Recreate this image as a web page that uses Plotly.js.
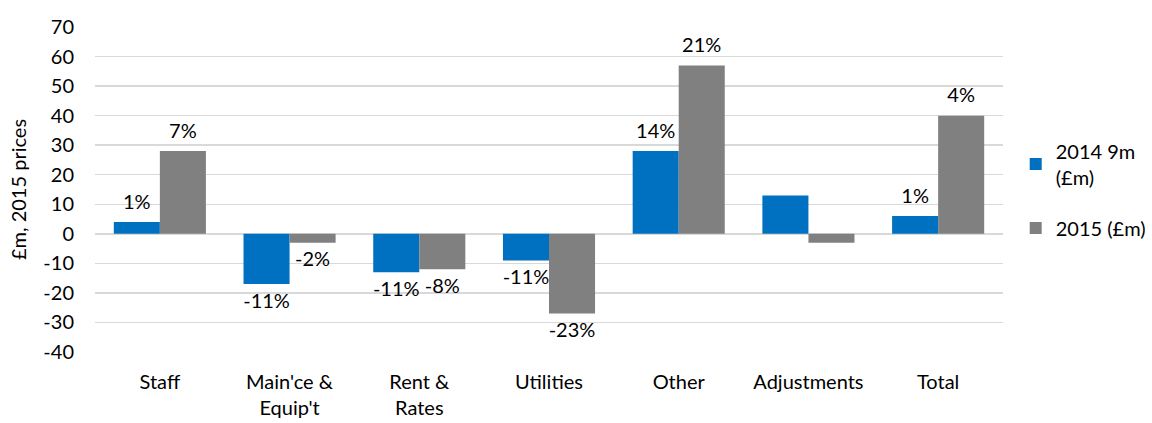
<!DOCTYPE html>
<html>
<head>
<meta charset="utf-8">
<script src="https://cdn.plot.ly/plotly-3.0.1.min.js"></script>
<style>html,body{margin:0;padding:0;background:#fff;}#chart{width:1152px;height:423px;}</style>
</head>
<body>
<div id="chart"></div>
<script>
const categories = ["Staff", "Main'ce &<br>Equip't", "Rent &<br>Rates", "Utilities", "Other", "Adjustments", "Total"];
const series2014Name = "2014 9m<br>(£m)";
const series2015Name = "2015 (£m)";
const values2014 = [4, -17, -13, -9, 28, 13, 6];
const values2015 = [28, -3, -12, -27, 57, -3, 40];
const labels2014 = ["1%", "-11%", "-11%", "-11%", "14%", "", "1%"];
const labels2015 = ["7%", "-2%", "-8%", "-23%", "21%", "", "4%"];
const yTickVals = [-40, -30, -20, -10, 0, 10, 20, 30, 40, 50, 60, 70];

const FONT = "Lato, 'Open Sans', sans-serif";
const FS = 20;

function labelTrace(vals, labels, group) {
  return {
    type: 'scatter', mode: 'markers+text', x: categories, y: vals, text: labels,
    textposition: vals.map(v => v >= 0 ? 'top center' : 'bottom center'),
    textfont: {family: FONT, size: FS, color: '#000'},
    marker: {size: 12, color: 'rgba(0,0,0,0)'},
    offsetgroup: group, alignmentgroup: 'g', cliponaxis: false,
    showlegend: false, hoverinfo: 'skip'
  };
}

const traces = [
  {
    type: 'bar', name: series2014Name, x: categories, y: values2014,
    marker: {color: '#0070C0'}, hoverinfo: 'skip', offsetgroup: 'a', alignmentgroup: 'g', legendgroup: 'a'
  },
  {
    type: 'bar', name: series2015Name, x: categories, y: values2015,
    marker: {color: '#808080'}, hoverinfo: 'skip', offsetgroup: 'b', alignmentgroup: 'g', legendgroup: 'b'
  },
  labelTrace(values2014, labels2014, 'a'),
  labelTrace(values2015, labels2015, 'b')
];

const layout = {
  width: 1152, height: 423,
  margin: {l: 95, r: 149, t: 27, b: 71, autoexpand: false},
  paper_bgcolor: '#fff', plot_bgcolor: '#fff',
  font: {family: FONT, size: FS, color: '#000'},
  barmode: 'group', bargap: 0.29, bargroupgap: 0,
  scattermode: 'group', scattergap: 0.29,
  showlegend: true,
  legend: {x: 1.014, xanchor: 'left', y: 0.5, yanchor: 'middle', font: {family: FONT, size: FS, color: '#000'}, tracegroupgap: 22, itemwidth: 30},
  xaxis: {
    type: 'category', showgrid: false, zeroline: false, showline: false,
    ticks: '', ticklabelstandoff: 16, tickfont: {family: FONT, size: FS, color: '#000'}
  },
  yaxis: {
    range: [-40, 70], tickvals: yTickVals, ticktext: yTickVals.map(String),
    showgrid: true, gridcolor: '#D9D9D9', gridwidth: 1.5,
    zeroline: true, zerolinecolor: '#D9D9D9', zerolinewidth: 1.5,
    showline: false, ticks: '', ticklabelstandoff: 20,
    tickfont: {family: FONT, size: FS, color: '#000'},
    title: {text: '£m, 2015 prices', font: {family: FONT, size: FS, color: '#000'}, standoff: 11}
  }
};

Plotly.newPlot('chart', traces, layout, {displayModeBar: false, staticPlot: true});
</script>
</body>
</html>
